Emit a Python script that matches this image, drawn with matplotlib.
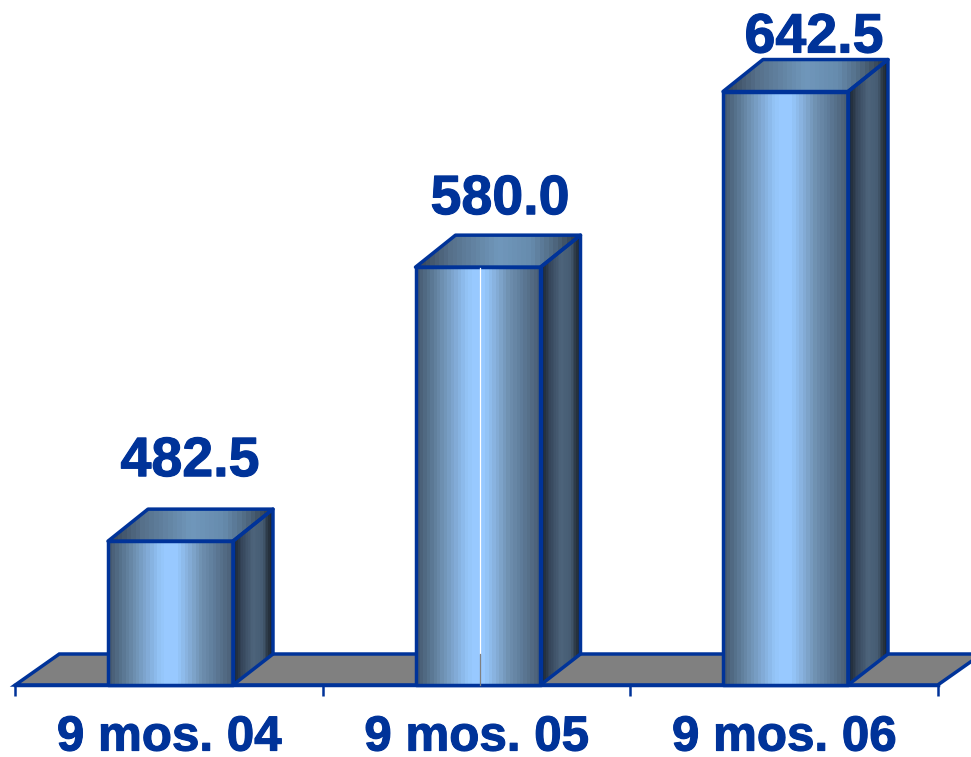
import numpy as np
import matplotlib
matplotlib.use('Agg')
import matplotlib.pyplot as plt
import matplotlib.patheffects as pe
from matplotlib.colors import LinearSegmentedColormap
from matplotlib.patches import Polygon

categories = ['9 mos. 04', '9 mos. 05', '9 mos. 06']
values = [482.5, 580.0, 642.5]
value_labels = ['482.5', '580.0', '642.5']

W, H = 971, 757
BLUE = '#003399'
px_x = 307.5            # pixels per category
px_y = 2.81             # pixels per unit of value
base = 431.3            # value sitting on the floor

x0 = -170.5 / px_x
x1 = (W - 170.5) / px_x
y0 = base - (H - 685) / px_y
y1 = base + 685 / px_y

bar_w = 125 / px_x
dx = 40 / px_x
dy = 32 / px_y

front_cmap = LinearSegmentedColormap.from_list('front', [
    (0, '#465a70'), (.1, '#587590'), (.2, '#6d8fb0'), (.3, '#80a8d2'), (.4, '#92c2f5'),
    (.45, '#98c9ff'), (.55, '#98c9ff'), (.65, '#85aed8'), (.75, '#6f90b0'), (.85, '#5f7d9b'),
    (1, '#4a5f75')], N=36)
side_cmap = LinearSegmentedColormap.from_list('side', [
    (0, '#1a232b'), (.2, '#35455a'), (.5, '#4d647b'), (.75, '#465c73'), (.9, '#283440'),
    (1, '#1a232b')], N=24)
top_cmap = LinearSegmentedColormap.from_list('top', [
    (0, '#38465a'), (.2, '#56708a'), (.5, '#7097bb'), (.7, '#678cae'), (.85, '#4f6880'),
    (1, '#2f3a47')], N=36)
ramp = np.linspace(0, 1, 256).reshape(1, -1)

fig = plt.figure(figsize=(W / 100, H / 100), dpi=100)
ax = fig.add_axes([0, 0, 1, 1])
plt.rcParams['font.family'] = ['Liberation Sans', 'DejaVu Sans']
heavy = [pe.withStroke(linewidth=0.8, foreground=BLUE)]


def face(points, cmap, left, right, low, high):
    im = ax.imshow(ramp, cmap=cmap, extent=[left, right, low, high], aspect='auto',
                   interpolation='nearest', zorder=3)
    outline = Polygon(points, closed=True, facecolor='none', edgecolor=BLUE, lw=2.5,
                      joinstyle='round', zorder=4)
    ax.add_patch(outline)
    im.set_clip_path(outline)


# floor
shift = -1.5 / px_x
floor_l = -0.5 + shift
floor_r = 2.5 + shift
floor_dx = 44 / px_x
floor_dy = 31 / px_y
ax.add_patch(Polygon([(floor_l, base), (floor_l + floor_dx, base + floor_dy),
                      (floor_r + floor_dx, base + floor_dy), (floor_r, base)],
                     closed=True, facecolor='#808080', edgecolor=BLUE, lw=2.5, zorder=2))

for i, v in enumerate(values):
    l = i - bar_w / 2
    r = i + bar_w / 2
    face([(l, v), (l + dx, v + dy), (r + dx, v + dy), (r, v)], top_cmap, l, r + dx, v, v + dy)
    face([(r, base), (r + dx, base + floor_dy), (r + dx, v + dy), (r, v)], side_cmap, r, r + dx, base, v + dy)
    face([(l, base), (r, base), (r, v), (l, v)], front_cmap, l, r, base, v)

# seam down the middle bar
seam = 1 + 2 / px_x
ax.plot([seam, seam], [base + floor_dy, values[1] - 1 / px_y], color='white', lw=0.9, zorder=5)
ax.plot([seam, seam], [base, base + floor_dy], color='#808080', lw=0.9, zorder=5)

label_lift = [65, 53, 39]
label_shift = [19.5, 22, 28.5]
for i, v in enumerate(values):
    ax.text(i + label_shift[i] / px_x, v + label_lift[i] / px_y, value_labels[i], ha='center',
            va='baseline', fontsize=40, fontweight='bold', color=BLUE, zorder=6,
            path_effects=heavy)

ax.set_xlim(x0, x1)
ax.set_ylim(y0, y1)
for name in ['top', 'left', 'right']:
    ax.spines[name].set_visible(False)
ax.spines['bottom'].set_position(('data', base))
ax.spines['bottom'].set_bounds(floor_l, floor_r)
ax.spines['bottom'].set_color(BLUE)
ax.spines['bottom'].set_linewidth(2.5)
ax.set_yticks([])
ax.set_xticks([k - 1.5 / px_x for k in range(len(categories))], categories)
ax.set_xticks([floor_l + k for k in range(4)], minor=True)
ax.tick_params(axis='x', which='major', length=0, pad=22, labelsize=35.5, labelcolor=BLUE)
ax.tick_params(axis='x', which='minor', length=8, width=1.8, color=BLUE)
for t in ax.get_xticklabels():
    t.set_fontweight('bold')
    t.set_path_effects(heavy)

fig.savefig('out.png', dpi=100)
